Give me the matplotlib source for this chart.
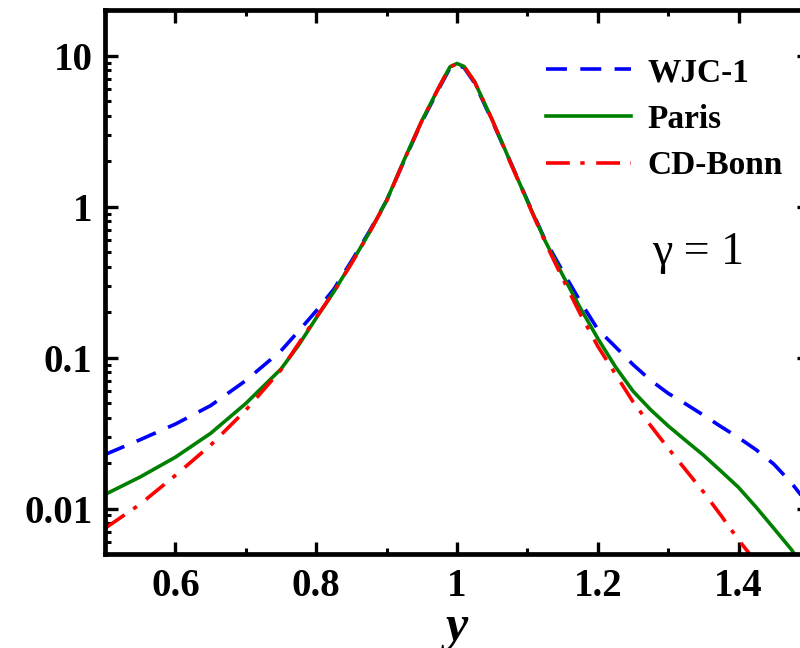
import numpy as np
import matplotlib
matplotlib.use('Agg')
import matplotlib.pyplot as plt

# values (log scale)
x = [0.50, 0.55, 0.60, 0.65, 0.70, 0.75, 0.775, 0.80, 0.825, 0.85, 0.875,
     0.90, 0.925, 0.95, 0.975, 0.99, 1.00, 1.01, 1.025, 1.05, 1.075, 1.10,
     1.125, 1.15, 1.175, 1.20, 1.225, 1.25, 1.275, 1.30, 1.325, 1.35, 1.375,
     1.40, 1.425, 1.45, 1.475, 1.50]

wjc1 = [0.0228, 0.0286, 0.0363, 0.0481, 0.0705, 0.111, 0.150, 0.204, 0.284,
        0.436, 0.68, 1.10, 2.02, 3.65, 6.15, 8.3, 8.7, 8.35, 6.6, 3.7, 2.02,
        1.10, 0.605, 0.375, 0.236, 0.154, 0.118, 0.090, 0.0708, 0.058, 0.0493,
        0.0416, 0.0349, 0.0295, 0.0245, 0.0197, 0.0148, 0.0105]

paris = [0.0124, 0.0162, 0.0219, 0.0315, 0.0497, 0.0841, 0.121, 0.183, 0.273,
         0.424, 0.668, 1.10, 2.05, 3.71, 6.28, 8.45, 8.9, 8.5, 6.73, 3.77, 2.02,
         1.087, 0.596, 0.353, 0.214, 0.134, 0.087, 0.060, 0.0452, 0.0353,
         0.0282, 0.0226, 0.0177, 0.0138, 0.0102, 0.0074, 0.00535, 0.0036]

cdbonn = [0.0074, 0.0107, 0.0166, 0.0263, 0.0449, 0.083, 0.124, 0.185, 0.273,
          0.42, 0.665, 1.09, 2.04, 3.70, 6.28, 8.45, 8.85, 8.5, 6.73, 3.75, 2.0,
          1.08, 0.585, 0.335, 0.195, 0.119, 0.078, 0.051, 0.0355, 0.0251, 0.018,
          0.0129, 0.0090, 0.0062, 0.0044, 0.0030]

xticks = [0.6, 0.8, 1.0, 1.2, 1.4]
xticklabels = ['0.6', '0.8', '1', '1.2', '1.4']
yticks = [0.01, 0.1, 1, 10]
yticklabels = ['0.01', '0.1', '1', '10']

plt.rcParams['font.family'] = ['Liberation Serif', 'DejaVu Serif']

fig = plt.figure(figsize=(8, 6.48), dpi=100)
# right edge of the frame falls just outside the picture, as in the original
ax = fig.add_axes([105 / 800, 94 / 648, 704 / 800, 543.6 / 648])

lw = 2.6
ax.plot(x, wjc1, color='blue', lw=lw, dashes=(5.8, 3.7), label='WJC-1')
ax.plot(x, paris, color='green', lw=lw, label='Paris')
ax.plot(x[:len(cdbonn)], cdbonn, color='red', lw=lw,
        dashes=(6.6, 2.9, 1.2, 3.2), label='CD-Bonn')

ax.set_yscale('log')
ax.set_xlim(0.5, 1.5)
ax.set_ylim(0.005, 20)

ax.set_xticks(xticks)
ax.set_xticklabels(xticklabels)
ax.set_xticks(np.arange(0.5, 1.51, 0.1), minor=True)
ax.set_yticks(yticks)
ax.set_yticklabels(yticklabels)

for s in ax.spines.values():
    s.set_linewidth(3.4)
ax.tick_params(which='both', direction='in', top=True, right=True)
ax.tick_params(which='major', length=9, width=2.4, labelsize=28)
ax.tick_params(which='minor', length=4.5, width=2.2)
ax.tick_params(axis='x', which='major', pad=10)
ax.tick_params(axis='y', which='major', pad=9)
for lab in ax.get_xticklabels() + ax.get_yticklabels():
    lab.set_fontweight('bold')

ax.set_xlabel('y', fontsize=36, fontstyle='italic', fontweight='bold',
              labelpad=0)

leg = ax.legend(loc='upper left', bbox_to_anchor=(546 / 800, 1 - 57 / 648),
                bbox_transform=fig.transFigure, frameon=False,
                prop={'size': 24, 'weight': 'bold'}, handlelength=2.55,
                handletextpad=0.5, labelspacing=0.47, borderpad=0,
                borderaxespad=0)

fig.text(698 / 800, 1 - 253 / 648, 'γ = 1', fontsize=33, ha='center',
         va='center')

fig.savefig('out.png', dpi=100)
